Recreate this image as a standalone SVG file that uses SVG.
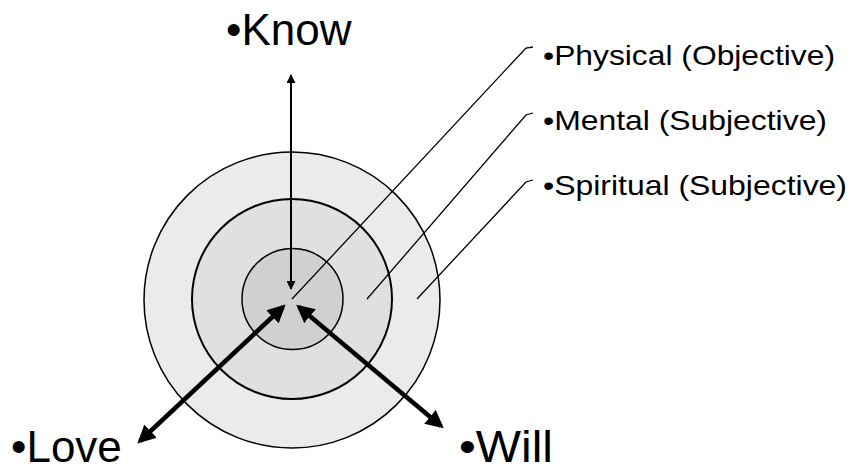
<svg xmlns="http://www.w3.org/2000/svg" width="856" height="472" viewBox="0 0 856 472">
<style>
text{font-family:"Liberation Sans",Arial,sans-serif;fill:#000}
.big{font-size:44px}
.lab{font-size:28px}
.ring{stroke:#000}
.lead{fill:none;stroke:#000;stroke-width:1.3}
.thin{stroke:#000;stroke-width:2;fill:none}
.thick{stroke:#000;stroke-width:4.5;fill:none}
</style>
<defs>
<marker id="ah" viewBox="0 0 10 10" refX="9" refY="5" markerWidth="9" markerHeight="9" markerUnits="userSpaceOnUse" orient="auto-start-reverse">
<path d="M0,0 L10,5 L0,10 z" fill="#000"/>
</marker>
<marker id="ahb" viewBox="0 0 10 10" refX="8" refY="5" markerWidth="4" markerHeight="4" orient="auto-start-reverse">
<path d="M0,0 L10,5 L0,10 z" fill="#000"/>
</marker>
</defs>
<g id="spiritual-ring"><circle cx="292" cy="300" r="148" fill="#ebebeb" class="ring" stroke-width="1.5"/></g>
<g id="mental-ring"><circle cx="292" cy="299" r="100" fill="#e0e0e0" class="ring" stroke-width="2"/></g>
<g id="physical-ring"><circle cx="292.5" cy="299" r="50.5" fill="#d0d0d0" class="ring" stroke-width="1.5"/></g>
<g id="connectors">
<path class="lead" d="M292,299 L526,48 L533,47"/>
<path class="lead" d="M367,299 L526,115 L533,113"/>
<path class="lead" d="M417,299 L526,182 L533,180"/>
<line class="thin" x1="291" y1="75" x2="291" y2="289" marker-start="url(#ah)" marker-end="url(#ah)"/>
<line class="thick" x1="283" y1="307" x2="140" y2="441" marker-start="url(#ahb)" marker-end="url(#ahb)"/>
<line class="thick" x1="299" y1="307" x2="441" y2="426" marker-start="url(#ahb)" marker-end="url(#ahb)"/>
</g>
<g id="know"><text class="big" x="226" y="45">•Know</text></g>
<g id="love"><text class="big" x="11" y="462">•Love</text></g>
<g id="will"><text class="big" x="459" y="462" textLength="94" lengthAdjust="spacingAndGlyphs">•Will</text></g>
<g id="physical"><text class="lab" x="543" y="65" textLength="292" lengthAdjust="spacingAndGlyphs">•Physical (Objective)</text></g>
<g id="mental"><text class="lab" x="543" y="130" textLength="284" lengthAdjust="spacingAndGlyphs">•Mental (Subjective)</text></g>
<g id="spiritual"><text class="lab" x="543" y="195" textLength="304" lengthAdjust="spacingAndGlyphs">•Spiritual (Subjective)</text></g>
</svg>
